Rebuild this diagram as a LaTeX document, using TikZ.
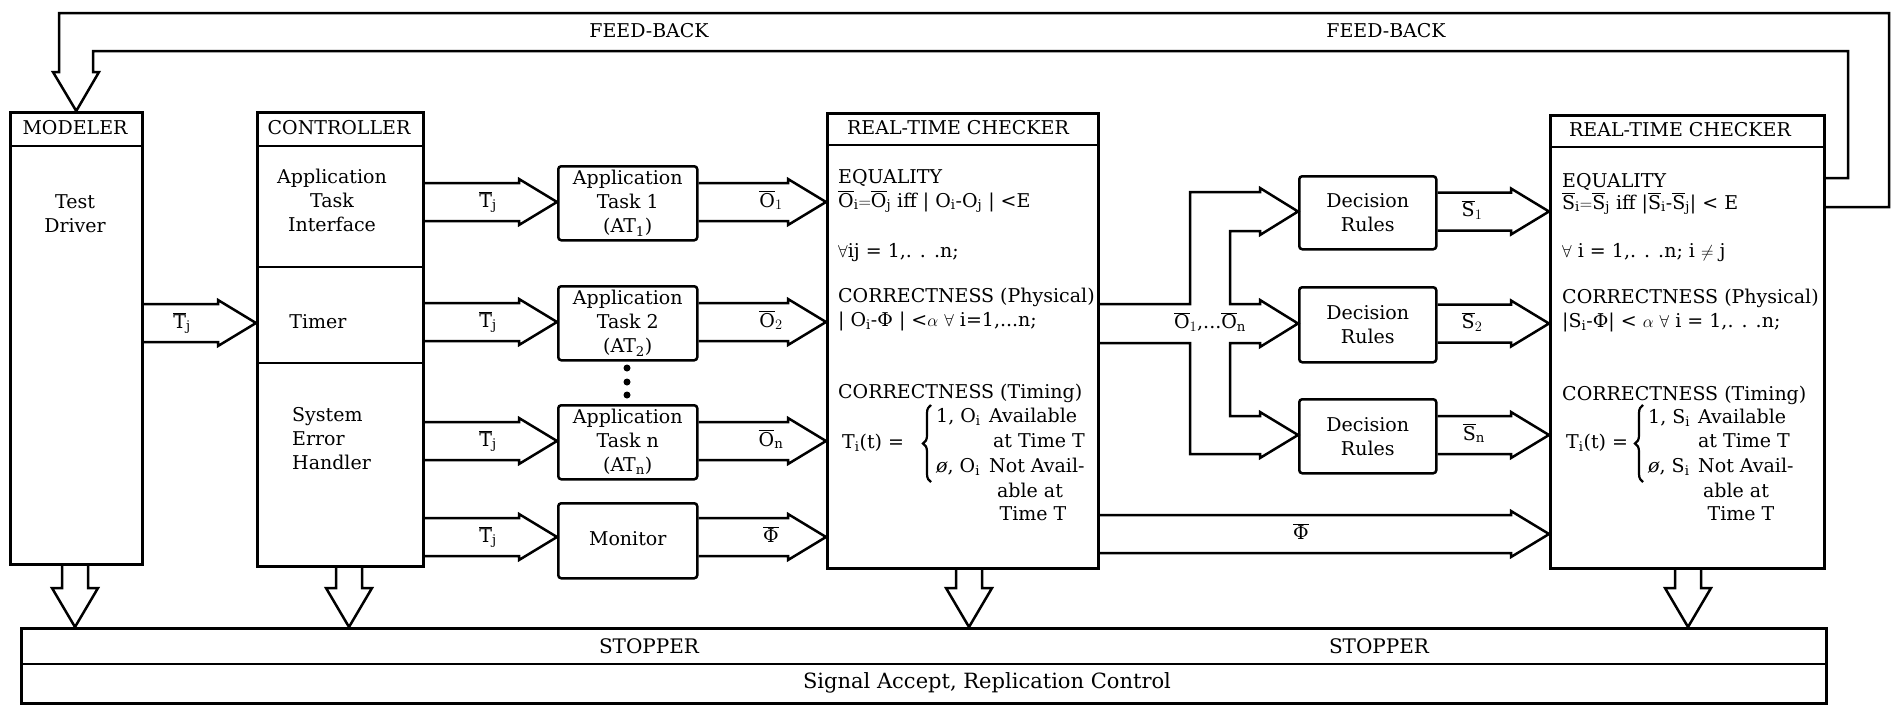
\documentclass[tikz,border=0pt]{standalone}
\usepackage{fontspec}
\setmainfont{DejaVu Serif}
\usetikzlibrary{calc,decorations.pathreplacing}
\newcommand{\fsz}{\fontsize{19}{24}\selectfont}
\newcommand{\bv}[1]{\overline{\mathrm{#1}}}
\newcommand{\sbs}[1]{$_{\mathrm{#1}}$}
\newcommand{\barphi}{$\overline{\mbox{Φ}}$}
% horizontal hollow arrow: from node, to node, image y of centre
\newcommand{\hpipe}[3]{%
  \draw[line] let \p1=(#1.east), \p2=(#2.west) in
    (\x1,{-#3+19}) -- ({\x2-38},{-#3+19}) -- ({\x2-38},{-#3+23}) -- (\x2,{-#3})
    -- ({\x2-38},{-#3-23}) -- ({\x2-38},{-#3-19}) -- (\x1,{-#3-19});}
% vertical hollow arrow: from node, to node, image x of centre
\newcommand{\vpipe}[3]{%
  \draw[line] let \p1=(#1.south), \p2=(#2.north) in
    ({#3-13},\y1) -- ({#3-13},{\y2+39}) -- ({#3-23},{\y2+39}) -- (#3,\y2)
    -- ({#3+23},{\y2+39}) -- ({#3+13},{\y2+39}) -- ({#3+13},\y1);}
\begin{document}
\begin{tikzpicture}[x=1pt,y=1pt,
  line/.style={line width=2.5pt,line join=miter,miter limit=10},
  box/.style={draw,line width=2.5pt,inner sep=0pt,anchor=north west},
  rbox/.style={box,rounded corners=3pt},
  txt/.style={font=\fsz,inner sep=0pt,text height=14pt,text depth=4pt},
  mtxt/.style={font=\fsz,inner sep=0pt,align=center},
  bracestyle/.style={line width=2.2pt,decorate,decoration={brace,amplitude=8pt}}]
\useasboundingbox (0,0) rectangle (1895,-705);

% ---------- boxes ----------
\node[box,minimum width=132pt,minimum height=452pt] (modeler) at (9,-111) {};
\node[box,minimum width=166pt,minimum height=454pt] (controller) at (256,-111) {};
\node[rbox,minimum width=139pt,minimum height=74pt] (at1) at (557,-165) {};
\node[rbox,minimum width=139pt,minimum height=74pt] (at2) at (557,-285) {};
\node[rbox,minimum width=139pt,minimum height=74pt] (atn) at (557,-404) {};
\node[rbox,minimum width=139pt,minimum height=75pt] (monitor) at (557,-502) {};
\node[box,minimum width=271pt,minimum height=455pt] (rtc1) at (826,-112) {};
\node[rbox,minimum width=137pt,minimum height=73pt] (dr1) at (1298,-175) {};
\node[rbox,minimum width=137pt,minimum height=75pt] (dr2) at (1298,-286) {};
\node[rbox,minimum width=137pt,minimum height=74pt] (drn) at (1298,-398) {};
\node[box,minimum width=274pt,minimum height=453pt] (rtc2) at (1549,-114) {};
\node[box,minimum width=1805pt,minimum height=75pt] (stopper) at (20,-627) {};

% internal dividing lines
\draw[line] (modeler.west |- 0,-146) -- (modeler.east |- 0,-146);
\draw[line] (controller.west |- 0,-146) -- (controller.east |- 0,-146);
\draw[line] (controller.west |- 0,-267) -- (controller.east |- 0,-267);
\draw[line] (controller.west |- 0,-363) -- (controller.east |- 0,-363);
\draw[line] (rtc1.west |- 0,-145) -- (rtc1.east |- 0,-145);
\draw[line] (rtc2.west |- 0,-147) -- (rtc2.east |- 0,-147);
\draw[line] (stopper.west |- 0,-664) -- (stopper.east |- 0,-664);

% ---------- texts ----------
\node[txt] (hm) at (75,-129) {MODELER};
\node[txt] (hc) at (339,-129) {CONTROLLER};
\node[txt] (hr1) at (958,-129) {REAL-TIME CHECKER};
\node[txt] (hr2) at (1680,-131) {REAL-TIME CHECKER};

\node[mtxt] (td) at (75,-214) {Test\\Driver};
\node[mtxt] (ati) at (332,-200) {Application\\Task\\Interface};
\node[txt] (tm) at (318,-323) {Timer};
\node[mtxt,align=left,anchor=west] (seh) at (292,-439) {System\\Error\\Handler};

\node[mtxt] (at1t) at (at1.center) {Application\\Task 1\\(AT\sbs{1})};
\node[mtxt] (at2t) at (at2.center) {Application\\Task 2\\(AT\sbs{2})};
\node[mtxt] (atnt) at (atn.center) {Application\\Task n\\(AT\sbs{n})};
\node[txt] (mont) at (monitor.center) {Monitor};
\node[mtxt] (dr1t) at (dr1.center) {Decision\\Rules};
\node[mtxt] (dr2t) at (dr2.center) {Decision\\Rules};
\node[mtxt] (drnt) at (drn.center) {Decision\\Rules};

\fill (627,-368) circle (3.5pt);
\fill (627,-382) circle (3.5pt);
\fill (627,-395) circle (3.5pt);

% RTC 1 body
\node[txt,anchor=west] (r1a) at (838,-178) {EQUALITY};
\node[txt,anchor=west] (r1b) at (838,-202) {$\bv{O}_{\mathrm{i}}{=}\bv{O}_{\mathrm{j}}$ iff | O\sbs{i}-O\sbs{j} | <E};
\node[txt,anchor=west] (r1c) at (838,-252) {$\forall$ij = 1,. . .n;};
\node[txt,anchor=west] (r1d) at (838,-297) {CORRECTNESS (Physical)};
\node[txt,anchor=west] (r1e) at (838,-321) {| O\sbs{i}-Φ | <$\alpha$ $\forall$ i=1,...n;};
\node[txt,anchor=west] (r1f) at (838,-393) {CORRECTNESS (Timing)};
\node[txt,anchor=west] (r1g) at (842,-443) {T\sbs{i}(t) =};
\coordinate (b1lo) at (931,-482);
\coordinate (b1hi) at (931,-405);
\draw[bracestyle] (b1lo) -- (b1hi);
\node[txt,anchor=west] (r1h) at (936,-417) {1, O\sbs{i}};
\node[txt,anchor=west] (r1i) at (989,-417) {Available};
\node[txt,anchor=east] (r1j) at (1085,-442) {at Time T};
\node[txt,anchor=west] (r1k) at (936,-467) {\textit{ø}, O\sbs{i}};
\node[txt,anchor=west] (r1l) at (989,-467) {Not Avail-};
\node[txt] (r1m) at (1030,-492) {able at};
\node[txt] (r1n) at (1033,-515) {Time T};

% RTC 2 body
\node[txt,anchor=west] (r2a) at (1562,-182) {EQUALITY};
\node[txt,anchor=west] (r2b) at (1562,-204) {$\bv{S}_{\mathrm{i}}{=}\bv{S}_{\mathrm{j}}$ iff |$\bv{S}_{\mathrm{i}}$-$\bv{S}_{\mathrm{j}}$| < E};
\node[txt,anchor=west] (r2c) at (1562,-252) {$\forall$ i = 1,. . .n; i $\neq$ j};
\node[txt,anchor=west] (r2d) at (1562,-298) {CORRECTNESS (Physical)};
\node[txt,anchor=west] (r2e) at (1562,-322) {|S\sbs{i}-Φ| < $\alpha$ $\forall$ i = 1,. . .n;};
\node[txt,anchor=west] (r2f) at (1562,-395) {CORRECTNESS (Timing)};
\node[txt,anchor=west] (r2g) at (1566,-443) {T\sbs{i}(t) =};
\coordinate (b2lo) at (1643,-482);
\coordinate (b2hi) at (1643,-405);
\draw[bracestyle] (b2lo) -- (b2hi);
\node[txt,anchor=west] (r2h) at (1648,-418) {1, S\sbs{i}};
\node[txt,anchor=west] (r2i) at (1698,-418) {Available};
\node[txt,anchor=east] (r2j) at (1790,-442) {at Time T};
\node[txt,anchor=west] (r2k) at (1648,-467) {\textit{ø}, S\sbs{i}};
\node[txt,anchor=west] (r2l) at (1698,-467) {Not Avail-};
\node[txt] (r2m) at (1736,-492) {able at};
\node[txt] (r2n) at (1741,-515) {Time T};

% stopper and feedback labels
\node[inner sep=0pt,font=\fontsize{20}{24}\selectfont] (st1) at (649,-646) {STOPPER};
\node[inner sep=0pt,font=\fontsize{20}{24}\selectfont] (st2) at (1379,-646) {STOPPER};
\node[inner sep=0pt,font=\fontsize{21}{25}\selectfont] (sig) at (987,-683) {Signal Accept, Replication Control};
\node[txt] (fb1) at (649,-32) {FEED-BACK};
\node[txt] (fb2) at (1386,-32) {FEED-BACK};

% ---------- hollow arrows ----------
\hpipe{modeler}{controller}{323}
\hpipe{controller}{at1}{202}
\hpipe{controller}{at2}{322}
\hpipe{controller}{atn}{441}
\hpipe{controller}{monitor}{537}
\hpipe{at1}{rtc1}{202}
\hpipe{at2}{rtc1}{322}
\hpipe{atn}{rtc1}{441}
\hpipe{monitor}{rtc1}{537}
\hpipe{rtc1}{rtc2}{534}
\hpipe{dr1}{rtc2}{211.5}
\hpipe{dr2}{rtc2}{323.5}
\hpipe{drn}{rtc2}{435}

\node[txt] (l1) at (182,-323) {$\bv{T}_{\mathrm{j}}$};
\node[txt] (l2) at (488,-202) {$\bv{T}_{\mathrm{j}}$};
\node[txt] (l3) at (488,-322) {$\bv{T}_{\mathrm{j}}$};
\node[txt] (l4) at (488,-441) {$\bv{T}_{\mathrm{j}}$};
\node[txt] (l5) at (488,-537) {$\bv{T}_{\mathrm{j}}$};
\node[txt] (l6) at (771,-202) {$\bv{O}_{1}$};
\node[txt] (l7) at (771,-322) {$\bv{O}_{2}$};
\node[txt] (l8) at (771,-441) {$\bv{O}_{\mathrm{n}}$};
\node[txt] (l9) at (771,-537) {\barphi};
\node[txt] (l10) at (1210,-323.5) {$\bv{O}_{1}$,...$\bv{O}_{\mathrm{n}}$};
\node[txt] (l11) at (1472,-211.5) {$\bv{S}_{1}$};
\node[txt] (l12) at (1472,-323.5) {$\bv{S}_{2}$};
\node[txt] (l13) at (1474,-435) {$\bv{S}_{\mathrm{n}}$};
\node[txt] (l14) at (1301,-534) {\barphi};

% branching pipe to decision rules
\draw[line] let \p1=(rtc1.east), \p2=(dr1.west), \p3=(dr2.west), \p4=(drn.west) in
  (\x1,-304) -- (1190,-304) -- (1190,-192) -- ({\x2-38},-192) -- ({\x2-38},-188)
  -- (\x2,-211.5) -- ({\x2-38},-235) -- ({\x2-38},-231) -- (1230,-231) -- (1230,-304)
  -- ({\x3-38},-304) -- ({\x3-38},-300) -- (\x3,-323.5) -- ({\x3-38},-347)
  -- ({\x3-38},-343) -- (1230,-343) -- (1230,-416) -- ({\x4-38},-416)
  -- ({\x4-38},-412) -- (\x4,-435) -- ({\x4-38},-458) -- ({\x4-38},-454)
  -- (1190,-454) -- (1190,-343) -- (\x1,-343);

% down arrows to stopper
\vpipe{modeler}{stopper}{75}
\vpipe{controller}{stopper}{349}
\vpipe{rtc1}{stopper}{969}
\vpipe{rtc2}{stopper}{1688}

% feedback loop
\draw[line] let \p1=(rtc2.east), \p2=(modeler.north) in
  (\x1,-178) -- (1848,-178) -- (1848,-51) -- (93,-51) -- (93,-72) -- (99,-72)
  -- (\x2,\y2) -- (53,-72) -- (59,-72) -- (59,-13) -- (1889,-13) -- (1889,-207)
  -- (\x1,-207);
\end{tikzpicture}
\end{document}
